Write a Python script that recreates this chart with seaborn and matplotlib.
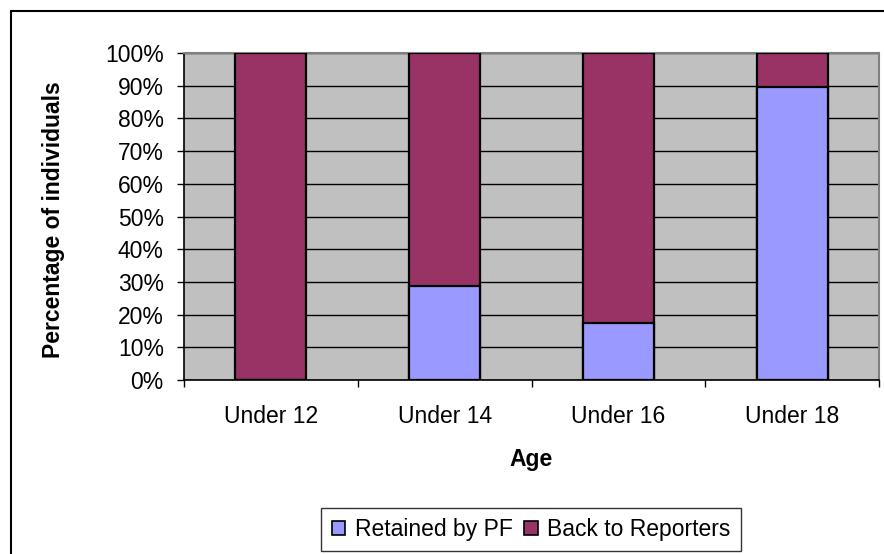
import matplotlib
matplotlib.use("Agg")
import matplotlib.pyplot as plt
import matplotlib.patches as mpatches
import seaborn as sns
import pandas as pd
import numpy as np

# Share of individuals by age group (percent)
ages = ["Under 12", "Under 14", "Under 16", "Under 18"]
retained_by_pf = [0.0, 28.6, 17.4, 89.5]
back_to_reporters = [100.0, 71.4, 82.6, 10.5]

series_names = ["Retained by PF", "Back to Reporters"]
colors = ["#9999FF", "#993366"]
y_ticks = list(range(0, 101, 10))
y_tick_labels = [f"{t}%" for t in y_ticks]

df = pd.DataFrame({
    "Age": ages,
    "Retained": retained_by_pf,
    "Back": back_to_reporters,
})
df["Total"] = df["Retained"] + df["Back"]

sns.set_theme(style="white")
plt.rcParams["font.family"] = ["Liberation Sans", "DejaVu Sans"]
plt.rcParams.update({
    "text.color": "black",
    "axes.labelcolor": "black",
    "xtick.color": "black",
    "ytick.color": "black",
    "xtick.labelcolor": "black",
    "ytick.labelcolor": "black",
})

FS = 16.5

fig = plt.figure(figsize=(8.84, 5.54), dpi=100)
ax = fig.add_axes([184 / 884, 1 - 380 / 554, 695 / 884, 327 / 554])
ax.set_facecolor("#C0C0C0")

# Stacked 100% bars: full stack first, then the lower segment on top
sns.barplot(data=df, x="Age", y="Total", color=colors[1], width=0.41,
            edgecolor="black", linewidth=1.6, saturation=1, ax=ax, zorder=3)
sns.barplot(data=df, x="Age", y="Retained", color=colors[0], width=0.41,
            edgecolor="black", linewidth=1.6, saturation=1, ax=ax, zorder=4)

ax.set_xlim(-0.5, len(ages) - 0.5)
ax.set_ylim(0, 100)
ax.set_yticks(y_ticks)
ax.set_yticklabels(y_tick_labels)
ax.yaxis.grid(True, color="black", linewidth=1.0, zorder=1)
ax.set_axisbelow(True)

ax.tick_params(axis="y", which="major", direction="out", length=5, width=1,
               color="black", labelcolor="black", labelsize=FS, pad=9.5,
               left=True)
ax.tick_params(axis="x", which="major", length=0, labelcolor="black",
               labelsize=FS, pad=18)
ax.set_xticks(np.arange(-0.5, len(ages)), minor=True)
ax.tick_params(axis="x", which="minor", direction="out", length=5, width=1,
               color="black", bottom=True)

for side in ["left", "bottom"]:
    ax.spines[side].set_color("black")
    ax.spines[side].set_linewidth(1.2)
for side in ["top", "right"]:
    ax.spines[side].set_color("#808080")
    ax.spines[side].set_linewidth(1.5)

ax.set_xlabel("Age", fontsize=FS, fontweight="bold", color="black")
ax.set_ylabel("Percentage of individuals", fontsize=FS, fontweight="bold",
              color="black")
ax.xaxis.set_label_coords(0.5, -0.208)
ax.yaxis.set_label_coords(-0.171, 0.49)

# Outer chart frame
fig.patches.append(mpatches.Rectangle(
    (11 / 884, -0.1), 1.2, 1.1 - 11 / 554,
    transform=fig.transFigure, fill=False, edgecolor="black", linewidth=1.5))

handles = [mpatches.Patch(facecolor=c, edgecolor="black", linewidth=1.2)
           for c in colors]
leg = fig.legend(handles, series_names, loc="center",
                 bbox_to_anchor=(531 / 884, 1 - 529.5 / 554), ncol=2,
                 fontsize=FS, frameon=True, fancybox=False,
                 handlelength=0.6, handleheight=0.6, handletextpad=0.4,
                 columnspacing=0.5, borderpad=0.45, borderaxespad=0)
leg.get_frame().set_edgecolor("black")
leg.get_frame().set_linewidth(1.0)
for t in leg.get_texts():
    t.set_color("black")

fig.savefig("out.png", dpi=100)
